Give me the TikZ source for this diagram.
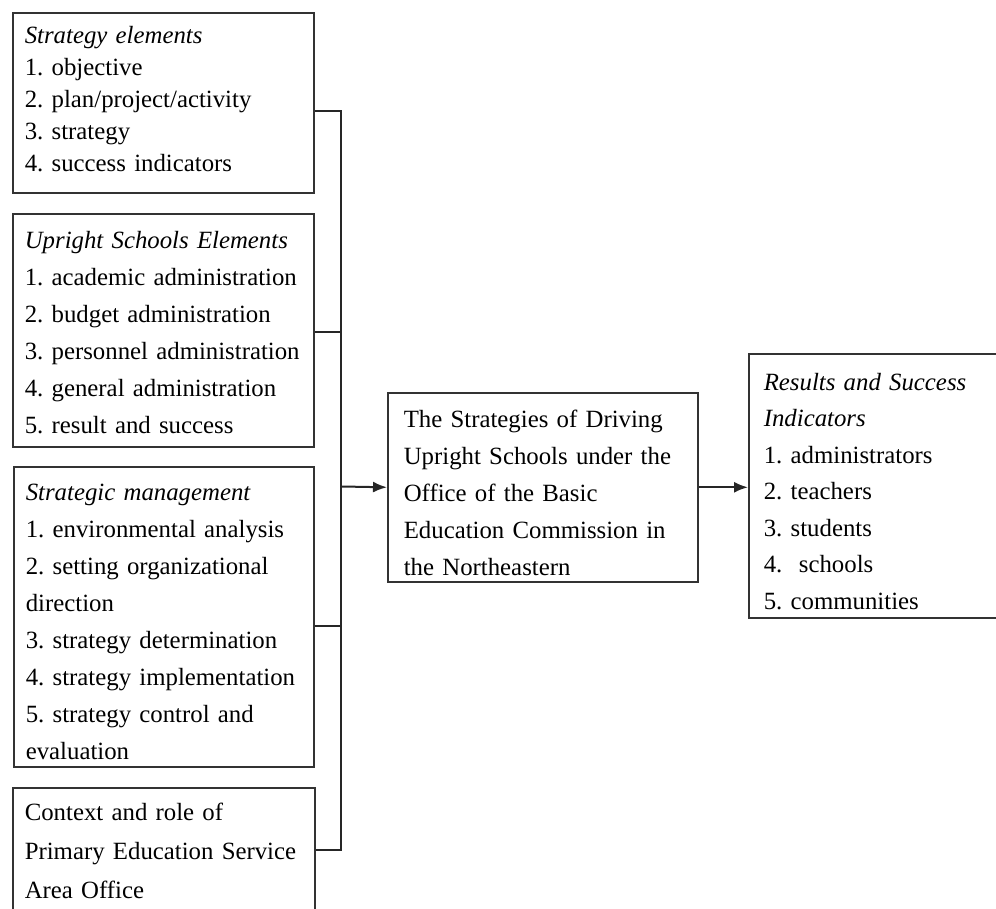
\documentclass[tikz,border=0pt]{standalone}
\usepackage{fontspec}
\setmainfont{Liberation Serif}
\usetikzlibrary{arrows.meta}
\frenchspacing
\hyphenpenalty=10000
\newcommand{\bodyfont}[1]{\fontsize{24.8}{#1}\selectfont}
\newcommand{\topgap}[1]{\rule{0pt}{#1}}
\newcommand{\lastgap}[1]{\rule[-#1]{0pt}{1pt}}
\tikzset{
	box/.style={draw=black!80, line width=1.6pt, anchor=north west, align=left, inner xsep=12pt, inner ysep=0pt},
	link/.style={line width=2pt, black!85},
	arr/.style={link, -{Latex[length=14pt,width=11pt]}},
}
\begin{document}
\begin{tikzpicture}[x=1pt,y=-1pt]
		\clip (0,0) rectangle (996,909);
		\node[box, minimum width=301pt, minimum height=180pt, text width=277pt, font=\bodyfont{32}] (elem) at (12,12) {\textit{Strategy elements}\\1. objective\\2. plan/project/activity\\3. strategy\\4. success indicators\lastgap{7pt}};
		\node[box, minimum width=301pt, minimum height=233pt, text width=277pt, font=\bodyfont{37}] (school) at (12,213) {\topgap{21pt}\textit{Upright Schools Elements}\\1. academic administration\\2. budget administration\\3. personnel administration\\4. general administration\\5. result and success};
		\node[box, minimum width=300pt, minimum height=300pt, text width=276pt, font=\bodyfont{37}] (manage) at (13,466) {\topgap{27pt}\textit{Strategic management}\\1. environmental analysis\\2. setting organizational\\direction\\3. strategy determination\\4. strategy implementation\\5. strategy control and\\evaluation};
		\node[box, minimum width=302pt, minimum height=126pt, text width=278pt, font=\bodyfont{39}] (context) at (12,787) {Context and role of\\Primary Education Service\\Area Office};
		\node[box, inner xsep=16pt, minimum width=310pt, minimum height=189pt, text width=278pt, font=\bodyfont{37}] (mid) at (387,392) {\topgap{29pt}The Strategies of Driving\\Upright Schools under the\\Office of the Basic\\Education Commission in\\the Northeastern};
		\node[box, inner xsep=15pt, minimum width=260pt, minimum height=264pt, text width=230pt, font=\bodyfont{36.5}] (res) at (748,353) {\topgap{28pt}\textit{Results and Success}\\\textit{Indicators}\\1. administrators\\2. teachers\\3. students\\4.~ schools\\5. communities};
		% bus on the left
		\coordinate (j1) at (341,111);
		\coordinate (j2) at (341,332);
		\coordinate (j3) at (341,626);
		\coordinate (j4) at (341,850);
		\coordinate (jm) at (341,486.5);
		\draw[link] (elem.east |- j1) -- (j1) -- (j4) -- (context.east |- j4);
		\draw[link] (school.east |- j2) -- (j2);
		\draw[link] (manage.east |- j3) -- (j3);
		\draw[arr] (jm) -- (mid.west);
		\draw[arr] (mid.east) -- (mid.east -| res.west);
	\end{tikzpicture}
\end{document}
